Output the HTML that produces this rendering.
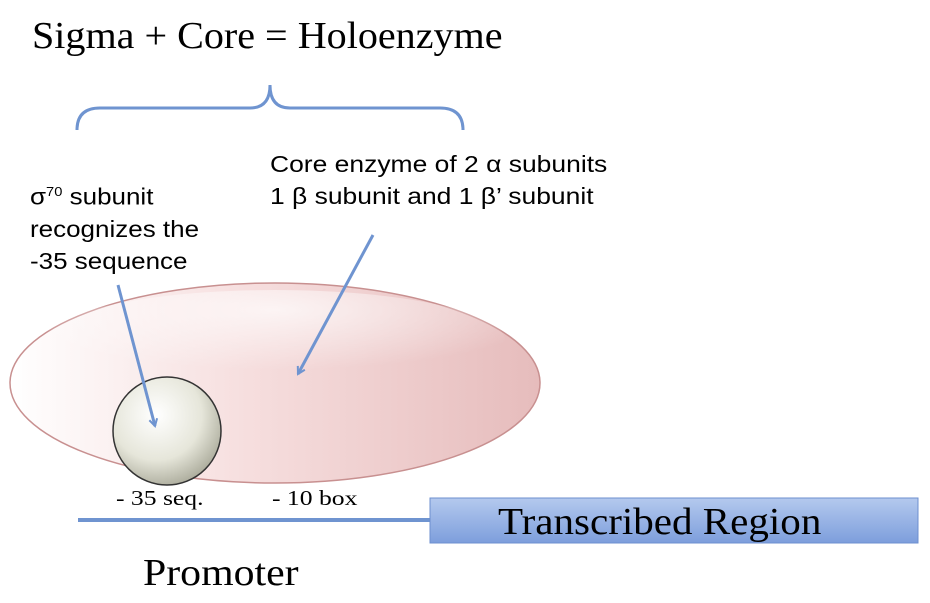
<!DOCTYPE html>
<html><head><style>
body{margin:0;width:930px;height:603px;background:#fff;overflow:hidden;position:relative}
.t{position:absolute;white-space:nowrap;transform-origin:0 0}
.serif{font-family:"Liberation Serif",serif;color:#000}
.sans{font-family:"Liberation Sans",sans-serif;color:#000}
</style></head><body>
<svg width="930" height="603" style="position:absolute;left:0;top:0">
<defs>
<linearGradient id="eg" x1="0" x2="1" y1="0" y2="0">
<stop offset="0" stop-color="#ffffff"/><stop offset="0.45" stop-color="#f6dede"/><stop offset="1" stop-color="#e6bcbc"/></linearGradient>
<radialGradient id="eh" cx="0.5" cy="0.2" r="0.6"><stop offset="0" stop-color="#fff" stop-opacity="0.7"/><stop offset="1" stop-color="#fff" stop-opacity="0"/></radialGradient>
<radialGradient id="sg" cx="0.4" cy="0.35" r="0.7"><stop offset="0" stop-color="#ffffff"/><stop offset="0.6" stop-color="#e6e6da"/><stop offset="1" stop-color="#a8a898"/></radialGradient>
<linearGradient id="bg" x1="0" x2="0" y1="0" y2="1"><stop offset="0" stop-color="#b4c9ee"/><stop offset="1" stop-color="#7d9edc"/></linearGradient>
<marker id="ah" markerWidth="10" markerHeight="10" refX="8" refY="5" orient="auto" markerUnits="userSpaceOnUse" viewBox="0 0 10 10"><path d="M1,1 L8,5 L1,9" fill="none" stroke="#6f94d0" stroke-width="2"/></marker>
</defs>
<path d="M77,130 Q77,108 100,108 L250,108 Q270,108 270,85 Q270,108 290,108 L440,108 Q463,108 463,130" fill="none" stroke="#6f94d0" stroke-width="3"/>
<ellipse cx="275" cy="383" rx="265" ry="100" fill="url(#eg)" stroke="#c89090" stroke-width="1.5"/>
<ellipse cx="275" cy="340" rx="230" ry="50" fill="url(#eh)"/>
<circle cx="167" cy="431" r="54" fill="url(#sg)" stroke="#333" stroke-width="1.5"/>
<line x1="118" y1="285" x2="155" y2="426" stroke="#6f94d0" stroke-width="3" marker-end="url(#ah)"/>
<line x1="373" y1="235" x2="298" y2="374" stroke="#6f94d0" stroke-width="3" marker-end="url(#ah)"/>
<line x1="78" y1="520" x2="432" y2="520" stroke="#6f94d0" stroke-width="4"/>
<rect x="430" y="498" width="488" height="45" fill="url(#bg)" stroke="#6d8fcf" stroke-width="1"/>
</svg>
<div class="t serif" style="left:32px;top:14px;font-size:38px;transform:scaleX(1.055)">Sigma + Core = Holoenzyme</div>
<div class="t sans" style="left:270px;top:148px;font-size:23px;line-height:32px;transform:scaleX(1.15)">Core enzyme of 2 α subunits<br>1 β subunit and 1 β’ subunit</div>
<div class="t sans" style="left:30px;top:176px;font-size:23px;line-height:32px;transform:scaleX(1.13)">σ<sup style="font-size:13px">70</sup> subunit<br>recognizes the<br>-35 sequence</div>
<div class="t serif" style="left:116px;top:486px;font-size:21px;transform:scaleX(1.22)">- 35 seq.</div>
<div class="t serif" style="left:272px;top:486px;font-size:21px;transform:scaleX(1.22)">- 10 box</div>
<div class="t serif" style="left:498px;top:500px;font-size:38px;transform:scaleX(1.08)">Transcribed Region</div>
<div class="t serif" style="left:143px;top:551px;font-size:38px;transform:scaleX(1.1)">Promoter</div>
</body></html>
